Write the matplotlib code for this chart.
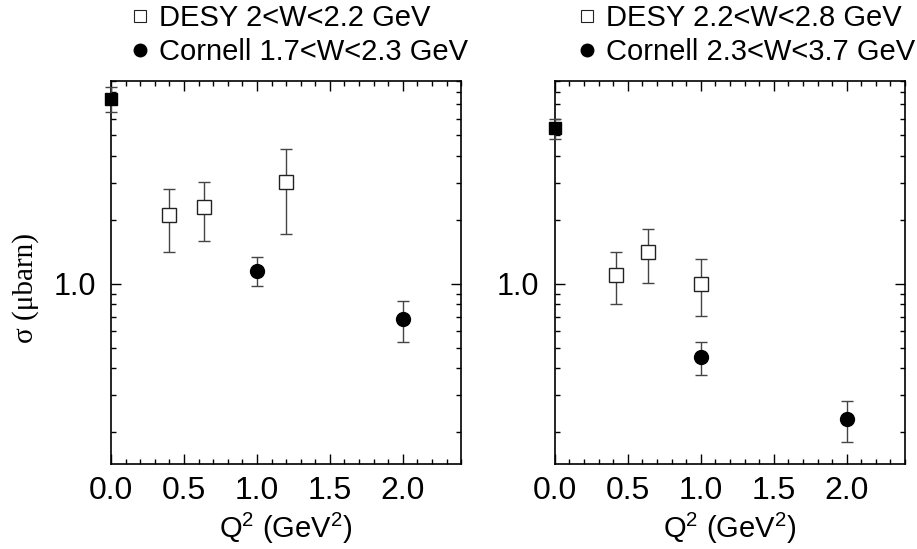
"""Cross section vs Q^2, two W bins (DESY open squares, Cornell filled circles)."""

import matplotlib
matplotlib.use("Agg")
import matplotlib.pyplot as plt
from matplotlib.lines import Line2D
from matplotlib.ticker import FixedLocator, LogLocator, NullFormatter, MultipleLocator

plt.rcParams["font.family"] = ["Liberation Sans", "DejaVu Sans"]
plt.rcParams["mathtext.default"] = "regular"

# ---------------------------------------------------------------------------
# Data (sigma in microbarn)
# ---------------------------------------------------------------------------

# left panel: DESY 2<W<2.2 GeV, Cornell 1.7<W<2.3 GeV
left_photo_q2 = [0.0]
left_photo_sig = [7.44]
left_photo_lo = [6.45]
left_photo_hi = [8.47]

left_desy_q2 = [0.40, 0.64, 1.20]
left_desy_sig = [2.12, 2.31, 3.02]
left_desy_lo = [1.41, 1.60, 1.71]
left_desy_hi = [2.81, 3.02, 4.30]

left_corn_q2 = [1.0, 2.0]
left_corn_sig = [1.155, 0.681]
left_corn_lo = [0.978, 0.533]
left_corn_hi = [1.336, 0.834]

# right panel: DESY 2.2<W<2.8 GeV, Cornell 2.3<W<3.7 GeV
right_photo_q2 = [0.0]
right_photo_sig = [5.43]
right_photo_lo = [4.83]
right_photo_hi = [6.00]

right_desy_q2 = [0.42, 0.64, 1.0]
right_desy_sig = [1.105, 1.41, 1.0]
right_desy_lo = [0.805, 1.005, 0.705]
right_desy_hi = [1.41, 1.81, 1.31]

right_corn_q2 = [1.0, 2.0]
right_corn_sig = [0.453, 0.231]
right_corn_lo = [0.371, 0.180]
right_corn_hi = [0.533, 0.282]

left_labels = ["DESY 2<W<2.2 GeV", "Cornell 1.7<W<2.3 GeV"]
right_labels = ["DESY 2.2<W<2.8 GeV", "Cornell 2.3<W<3.7 GeV"]

x_ticks = [0.0, 0.5, 1.0, 1.5, 2.0]
x_tick_labels = ["0.0", "0.5", "1.0", "1.5", "2.0"]


def _yerr(sig, lo, hi):
    return [[s - l for s, l in zip(sig, lo)], [h - s for s, h in zip(sig, hi)]]


def draw_panel(ax, photo, desy, corn, labels, legend_x):
    err_kw = dict(ecolor="#444444", elinewidth=1.0, capsize=4, capthick=1.0, linestyle="none")

    q, s, lo, hi = photo
    ax.errorbar(q, s, yerr=_yerr(s, lo, hi), marker="s", ms=9, mfc="black",
                mec="black", clip_on=False, zorder=5, **err_kw)

    q, s, lo, hi = desy
    ax.errorbar(q, s, yerr=_yerr(s, lo, hi), marker="s", ms=10, mfc="white",
                mec="#222222", mew=1.0, zorder=4, **err_kw)

    q, s, lo, hi = corn
    ax.errorbar(q, s, yerr=_yerr(s, lo, hi), marker="o", ms=10, mfc="black",
                mec="black", zorder=4, **err_kw)

    ax.set_yscale("log")
    ax.set_xlim(0, 2.4)
    ax.set_ylim(0.142, 9.0)

    ax.xaxis.set_major_locator(FixedLocator(x_ticks))
    ax.set_xticklabels(x_tick_labels)
    ax.xaxis.set_minor_locator(MultipleLocator(0.1))

    ax.yaxis.set_major_locator(FixedLocator([1.0]))
    ax.set_yticklabels(["1.0"])
    ax.yaxis.set_minor_locator(LogLocator(base=10, subs=range(2, 10), numticks=20))
    ax.yaxis.set_minor_formatter(NullFormatter())

    ax.tick_params(which="both", direction="in", top=True, right=True)
    ax.tick_params(which="major", length=7, width=1.0)
    ax.tick_params(axis="x", which="major", labelsize=23, pad=9)
    ax.tick_params(axis="y", which="major", labelsize=22, pad=11)
    ax.tick_params(which="minor", length=3.5, width=1.0)
    for sp in ax.spines.values():
        sp.set_linewidth(1.2)

    ax.set_xlabel("Q$^2$ (GeV$^2$)", fontsize=21, labelpad=3)

    handles = [
        Line2D([], [], marker="s", ms=9, mfc="white", mec="#222222", mew=0.8, linestyle="none"),
        Line2D([], [], marker="o", ms=9, mfc="black", mec="black", linestyle="none"),
    ]
    ax.legend(handles, labels, loc="lower left", bbox_to_anchor=(legend_x, 1.032),
              frameon=False, fontsize=21, handlelength=0.6, handletextpad=0.35,
              labelspacing=0.2, borderaxespad=0.0, borderpad=0.1)


fig = plt.figure(figsize=(9.17, 5.49), dpi=100)
ax1 = fig.add_axes([0.121, 0.155, 0.382, 0.697])
ax2 = fig.add_axes([0.605, 0.155, 0.382, 0.697])

draw_panel(ax1,
           (left_photo_q2, left_photo_sig, left_photo_lo, left_photo_hi),
           (left_desy_q2, left_desy_sig, left_desy_lo, left_desy_hi),
           (left_corn_q2, left_corn_sig, left_corn_lo, left_corn_hi),
           left_labels, 0.05)
draw_panel(ax2,
           (right_photo_q2, right_photo_sig, right_photo_lo, right_photo_hi),
           (right_desy_q2, right_desy_sig, right_desy_lo, right_desy_hi),
           (right_corn_q2, right_corn_sig, right_corn_lo, right_corn_hi),
           right_labels, 0.06)

ax1.set_ylabel("σ (μbarn)", fontsize=21, family=["Liberation Serif", "DejaVu Serif"])
ax1.yaxis.set_label_coords(-0.205, 0.46)

fig.savefig("out.png", dpi=100)
plt.close(fig)
